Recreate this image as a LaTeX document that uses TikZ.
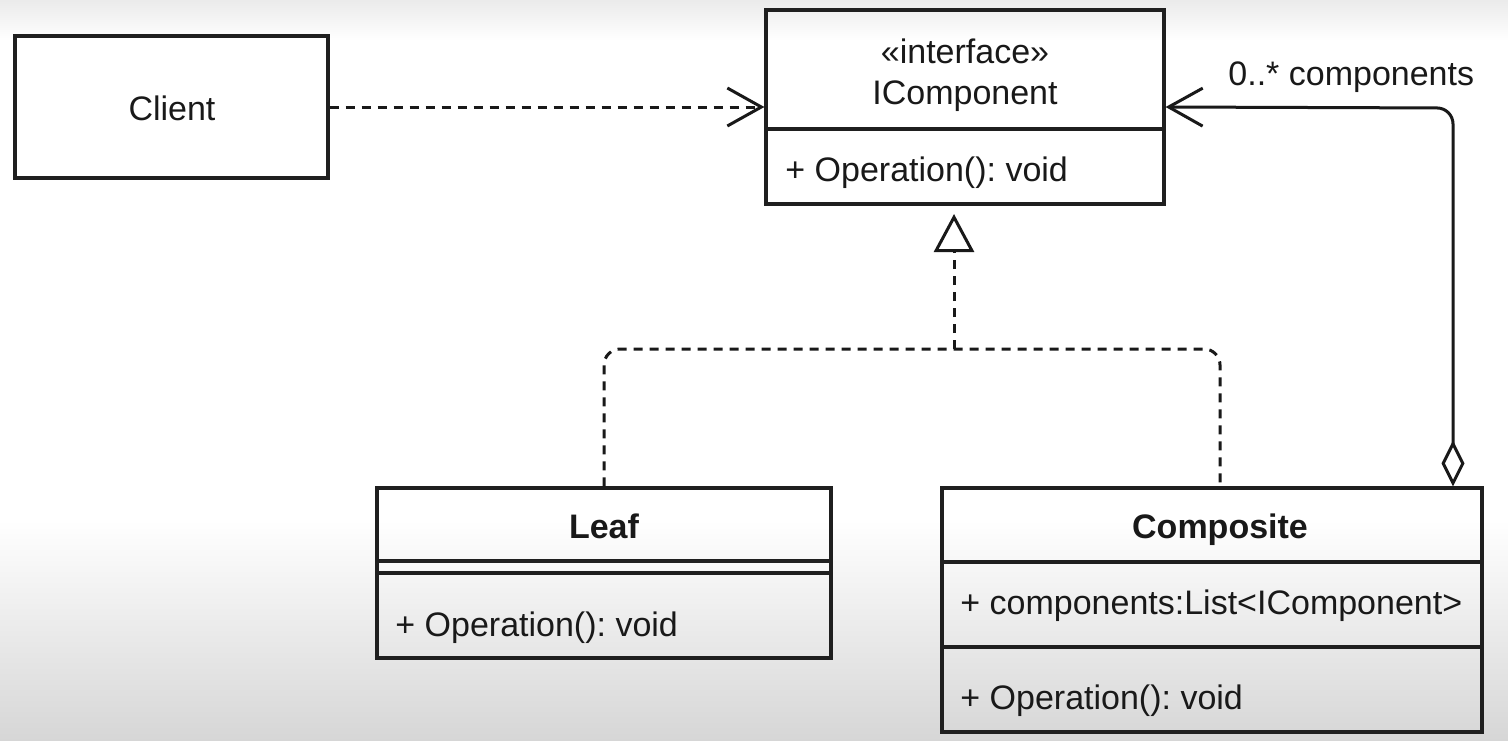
\documentclass[tikz,border=0pt]{standalone}
\usepackage{fontspec}
\setmainfont{Liberation Sans}
\frenchspacing
\usetikzlibrary{arrows.meta}
\tikzset{
  box/.style={draw=black!88, line width=1.6pt, inner sep=0pt},
  txt/.style={font=\fontsize{17}{20}\selectfont, inner sep=0pt, text=black!90},
  btxt/.style={txt, font=\fontsize{17}{20}\selectfont\bfseries},
  conn/.style={draw=black!90, line width=1.5pt},
  dsh/.style={conn, dash pattern=on 4.5pt off 3.5pt},
  barb/.style={-{Straight Barb[length=17pt,width=19pt,line width=1.5pt]}},
}
\begin{document}
\begin{tikzpicture}[x=0.5pt,y=-0.5pt]
\useasboundingbox (0,0) rectangle (1508,740);
\fill[white] (0,0) rectangle (1508,740);
\shade[top color=black!8, bottom color=white] (0,0) rectangle (1508,40);
\shade[top color=white, bottom color=black!16] (0,520) rectangle (1508,740);

% boxes
\node[box, minimum width=156.5pt, minimum height=71pt] (client) at (171.5,107) {};
\node[box, minimum width=199pt, minimum height=97pt] (icomp) at (965,107) {};
\node[box, minimum width=227pt, minimum height=85pt] (leaf) at (604,573) {};
\node[box, minimum width=270pt, minimum height=122pt] (comp) at (1212,610) {};

% dividers
\draw[box] (icomp.west |- 0,129) -- (icomp.east |- 0,129);
\draw[box] (leaf.west |- 0,561) -- (leaf.east |- 0,561);
\draw[box] (leaf.west |- 0,573) -- (leaf.east |- 0,573);
\draw[box] (comp.west |- 0,562) -- (comp.east |- 0,562);
\draw[box] (comp.west |- 0,647) -- (comp.east |- 0,647);

% texts
\node[txt, anchor=base] (tclient) at (172,120) {Client};
\node[txt, anchor=base] (tster) at (965,63) {«interface»};
\node[txt, anchor=base] (tname) at (965,104) {IComponent};
\node[txt, anchor=base west] (top1) at (785,181) {+ Operation(): void};
\node[btxt, anchor=base] (tleaf) at (604,538) {Leaf};
\node[txt, anchor=base west] (top2) at (395,636) {+ Operation(): void};
\node[btxt, anchor=base] (tcomp) at (1220,538) {Composite};
\node[txt, anchor=base west] (tfield) at (960,614) {+ components:List<IComponent>};
\node[txt, anchor=base west] (top3) at (960,709) {+ Operation(): void};
\node[txt, anchor=base west] (tmult) at (1228,85) {0..* components};

% client dependency
\draw[dsh, barb] (client.east) -- (icomp.west);

% realization
\coordinate (tip) at (954,214);
\coordinate (junc) at (954,349);
\draw[dsh, rounded corners=8pt] (leaf.north) -- (604,349) -- (1220,349) -- (1220,0 |- comp.north);
\draw[dsh, -{Triangle[open,length=19pt,width=20pt,line width=1.5pt]}] (junc) -- (tip);

% aggregation
\draw[conn, rounded corners=8pt, {Diamond[open,length=23pt,width=11.5pt,line width=1.5pt]}-{Straight Barb[length=17pt,width=19pt,line width=1.5pt]}]
  (1453,0 |- comp.north) -- (1453,108) -- (icomp.east);
\end{tikzpicture}
\end{document}
